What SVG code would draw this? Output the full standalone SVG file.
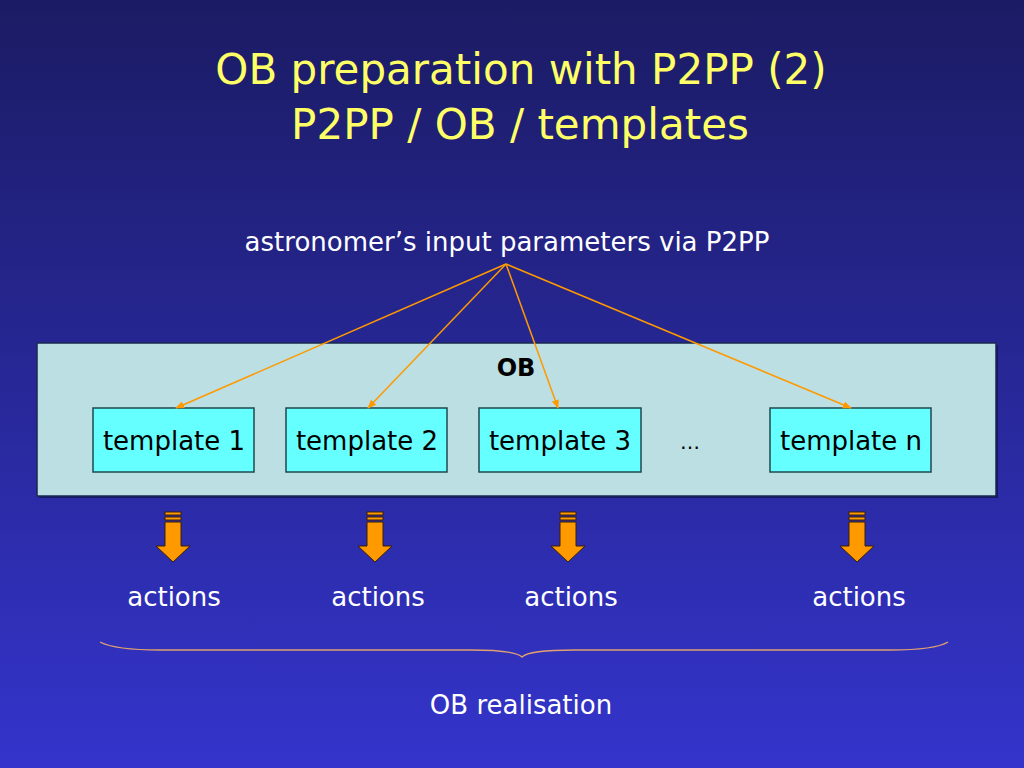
<svg xmlns="http://www.w3.org/2000/svg" width="1024" height="768" viewBox="0 0 1024 768">
<defs>
<linearGradient id="bg" x1="0" y1="0" x2="0" y2="1">
<stop offset="0" stop-color="#1b1b64"/>
<stop offset="1" stop-color="#3434cc"/>
</linearGradient>
<marker id="ah" viewBox="0 0 10 10" refX="9" refY="5" markerWidth="9" markerHeight="9" markerUnits="userSpaceOnUse" orient="auto">
<path d="M0,1 L10,5 L0,9 z" fill="#ff9900"/>
</marker>
<g id="blk">
<rect x="-8" y="0" width="16" height="3" fill="#ff9900" stroke="#3a2000" stroke-width="1"/>
<rect x="-8" y="5" width="16" height="3" fill="#ff9900" stroke="#3a2000" stroke-width="1"/>
<path d="M-8,10 L8,10 L8,34 L17,34 L0,50 L-17,34 L-8,34 z" fill="#ff9900" stroke="#3a2000" stroke-width="1"/>
</g>
</defs>
<style>
.t{font-family:"DejaVu Sans","Liberation Sans",sans-serif;}
.title{fill:#ffff66;font-size:42px;}
.w{fill:#ffffff;font-size:26px;}
.k{fill:#000000;font-size:26px;}
.tpl{fill:#66ffff;stroke:#1e4a50;stroke-width:1.5;}
.con{stroke:#ff9900;stroke-width:1.5;fill:none;marker-end:url(#ah);}
</style>
<rect width="1024" height="768" fill="url(#bg)"/>
<g id="title" class="t">
<text class="title" x="521" y="84" text-anchor="middle">OB preparation with P2PP (2)</text>
<text class="title" x="520" y="139" text-anchor="middle">P2PP / OB / templates</text>
</g>
<g id="input" class="t">
<text class="w" x="507" y="251" text-anchor="middle">astronomer’s input parameters via P2PP</text>
</g>
<g id="ob">
<rect x="39" y="345" width="959" height="153" fill="#0a0a40" opacity="0.6"/>
<rect x="37" y="343" width="959" height="153" fill="#bbdfe3" stroke="#1a2a50" stroke-width="1.5"/>
<text class="t" x="516" y="376" text-anchor="middle" font-size="24" font-weight="bold" fill="#000">OB</text>
</g>
<g id="template1">
<rect class="tpl" x="93" y="408" width="161" height="64"/>
<text class="t k" x="174" y="450" text-anchor="middle">template 1</text>
</g>
<g id="template2">
<rect class="tpl" x="286" y="408" width="161" height="64"/>
<text class="t k" x="367" y="450" text-anchor="middle">template 2</text>
</g>
<g id="template3">
<rect class="tpl" x="479" y="408" width="162" height="64"/>
<text class="t k" x="560" y="450" text-anchor="middle">template 3</text>
</g>
<g id="ellipsis">
<text class="t" x="690" y="449" text-anchor="middle" font-size="20" fill="#000">…</text>
</g>
<g id="templaten">
<rect class="tpl" x="770" y="408" width="161" height="64"/>
<text class="t k" x="851" y="450" text-anchor="middle">template n</text>
</g>
<g id="connectors">
<line class="con" x1="506" y1="264" x2="176" y2="408"/>
<line class="con" x1="506" y1="264" x2="368" y2="408"/>
<line class="con" x1="506" y1="264" x2="558" y2="408"/>
<line class="con" x1="506" y1="264" x2="851" y2="408"/>
<use href="#blk" x="173" y="512"/>
<use href="#blk" x="375" y="512"/>
<use href="#blk" x="568" y="512"/>
<use href="#blk" x="857" y="512"/>
</g>
<g id="actions" class="t">
<text class="w" x="174" y="606" text-anchor="middle">actions</text>
<text class="w" x="378" y="606" text-anchor="middle">actions</text>
<text class="w" x="571" y="606" text-anchor="middle">actions</text>
<text class="w" x="859" y="606" text-anchor="middle">actions</text>
</g>
<g id="brace">
<path d="M100,642 Q115,650 160,650 L470,650 Q515,650 522,657 Q529,650 574,650 L890,650 Q935,650 948,642" fill="none" stroke="#e0a070" stroke-width="1.3"/>
</g>
<g id="realisation" class="t">
<text class="w" x="521" y="714" text-anchor="middle">OB realisation</text>
</g>
</svg>
